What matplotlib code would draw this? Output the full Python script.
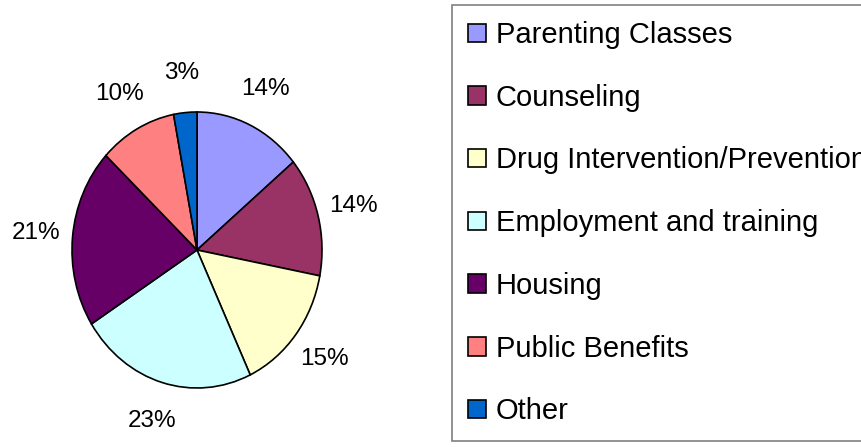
import matplotlib
matplotlib.use("Agg")
import matplotlib.pyplot as plt

categories = ["Parenting Classes", "Counseling", "Drug Intervention/Prevention",
              "Employment and training", "Housing", "Public Benefits", "Other"]
values = [14, 14, 15, 23, 21, 10, 3]
colors = ["#9999FF", "#993366", "#FFFFCC", "#CCFFFF", "#660066", "#FF8080", "#0066CC"]

plt.rcParams['font.family'] = ['Liberation Sans', 'DejaVu Sans']

W, H = 861, 447
fig = plt.figure(figsize=(W / 100, H / 100), dpi=100)

# pie axes occupying left part
ax = fig.add_axes([0, 0, 394 / W, 1])
wedges, texts = ax.pie(values, colors=colors, startangle=90, counterclock=False,
                       labels=[f"{v}%" for v in values], labeldistance=1.29,
                       wedgeprops=dict(edgecolor="black", linewidth=1.2),
                       textprops=dict(fontsize=17.5, color="black"))
for t in texts:
    t.set_horizontalalignment("center")
    t.set_verticalalignment("center")

rx, ry = 125.0, 138.0
cx, cy = 197.0, H - 250.0
ax.set_aspect("auto")
ax.set_xlim(-cx / rx, (394 - cx) / rx)
ax.set_ylim(-cy / ry, (H - cy) / ry)
ax.axis("off")

leg = fig.legend(wedges, categories, loc="upper left",
                 bbox_to_anchor=(452 / W, 1 - 5 / H), bbox_transform=fig.transFigure,
                 borderaxespad=0, fontsize=21, frameon=True, fancybox=False,
                 framealpha=1, edgecolor="#808080", borderpad=0.55,
                 labelspacing=1.19, handlelength=0.6, handleheight=0.6,
                 handletextpad=0.35)
leg.get_frame().set_linewidth(1.2)

fig.savefig("out.png", dpi=100)
